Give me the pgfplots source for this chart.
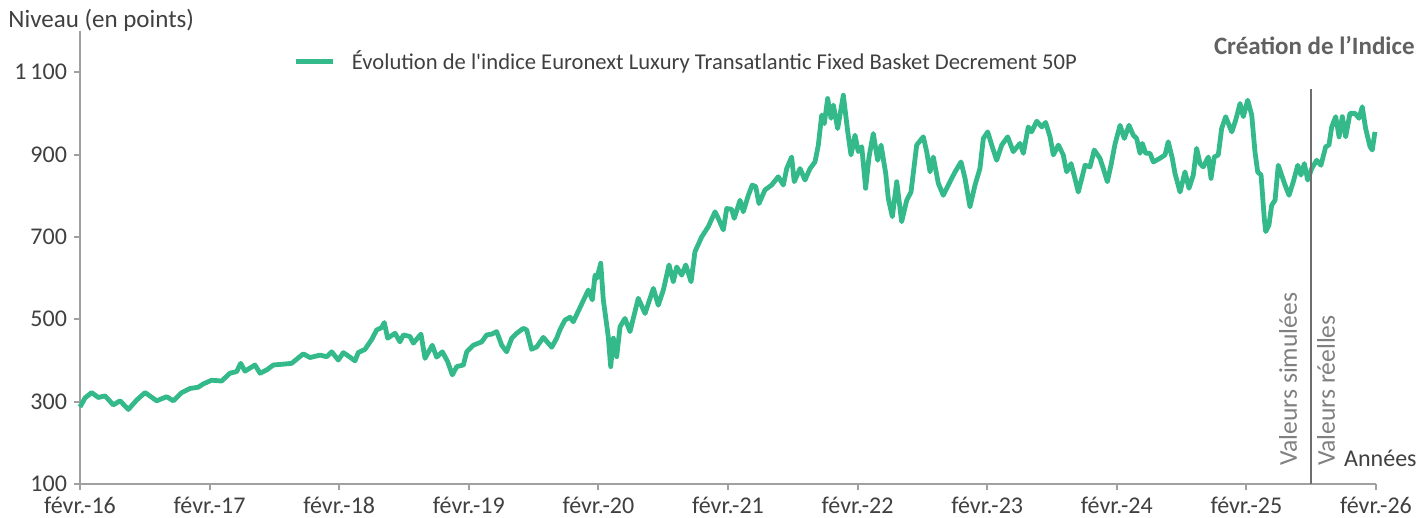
\documentclass[border=0pt]{standalone}
\usepackage{fontspec}
\setmainfont{Carlito}
\usepackage{pgfplots}
\pgfplotsset{compat=1.18}
\definecolor{lgreen}{RGB}{52,186,138}
\definecolor{txt}{RGB}{64,64,64}
\definecolor{axgray}{RGB}{160,160,160}
\definecolor{vgray}{RGB}{110,110,110}
\definecolor{notegray}{RGB}{128,128,128}
\begin{document}
\begin{tikzpicture}
\useasboundingbox (-40pt,-17pt) rectangle (670pt,242pt);
\begin{axis}[
  scale only axis, width=648pt, height=226.5pt,
  at={(0,0)}, anchor=south west,
  xmin=0, xmax=10, ymin=100, ymax=1200,
  axis lines*=left,
  axis line style={axgray, line width=1pt},
  tick style={axgray, line width=1pt},
  tick align=outside, major tick length=3pt,
  xtick={0,1,...,10},
  xticklabels={févr.-16,févr.-17,févr.-18,févr.-19,févr.-20,févr.-21,févr.-22,févr.-23,févr.-24,févr.-25,févr.-26},
  ytick={100,300,500,700,900,1100},
  yticklabels={100,300,500,700,900,1\,100},
  /pgf/number format/assume math mode=true,
  ticklabel style={font=\fontsize{12}{14}\selectfont, text=txt},
  legend style={at={(rel axis cs:0.1595,0.932)}, anchor=west, draw=none, fill=none,
     font=\fontsize{11.3}{13}\selectfont, text=txt},
  legend image code/.code={\draw[#1, line width=2.4pt] (0pt,0pt) -- (18.5pt,0pt); \path (25pt,0pt);},
  clip=false,
]
\addplot[lgreen, line width=2.4pt, line join=round] coordinates {
(0,287) (0.039,309) (0.090,322) (0.141,310) (0.193,314) (0.257,292) (0.309,302) (0.373,281)
(0.438,304) (0.502,322) (0.592,302) (0.669,312) (0.720,302) (0.785,322) (0.849,332) (0.913,335)
(0.951,343) (1.016,352) (1.093,350) (1.157,369) (1.209,373) (1.240,393) (1.273,374) (1.350,389)
(1.389,369) (1.441,377) (1.492,389) (1.569,391) (1.633,393) (1.723,416) (1.775,407) (1.852,413)
(1.904,409) (1.942,421) (1.993,401) (2.032,419) (2.083,408) (2.122,399) (2.147,419) (2.199,427)
(2.251,451) (2.289,474) (2.328,480) (2.348,492) (2.374,454) (2.431,466) (2.469,445) (2.495,462)
(2.546,458) (2.572,442) (2.631,464) (2.662,405) (2.718,437) (2.752,408) (2.796,421) (2.837,397)
(2.873,365) (2.907,385) (2.958,389) (2.984,421) (3.035,437) (3.099,445) (3.138,462) (3.177,464)
(3.215,470) (3.254,437) (3.292,421) (3.331,454) (3.370,466) (3.421,478) (3.447,474) (3.485,427)
(3.524,433) (3.575,456) (3.640,432) (3.678,454) (3.704,475) (3.742,498) (3.781,505) (3.806,494)
(3.871,537) (3.922,571) (3.953,547) (3.974,607) (3.989,600) (4.018,636) (4.038,547) (4.059,498)
(4.076,458) (4.095,385) (4.115,454) (4.141,409) (4.167,482) (4.205,502) (4.244,470) (4.269,502)
(4.308,551) (4.360,514) (4.424,575) (4.462,534) (4.501,571) (4.545,632) (4.578,591) (4.604,627)
(4.643,607) (4.674,632) (4.715,591) (4.745,664) (4.797,700) (4.848,725) (4.900,761) (4.925,745)
(4.964,717) (4.990,769) (5.028,767) (5.048,745) (5.093,789) (5.118,761) (5.157,801) (5.187,826)
(5.214,822) (5.239,781) (5.285,814) (5.337,826) (5.388,846) (5.427,826) (5.453,866) (5.491,894)
(5.511,834) (5.556,866) (5.594,838) (5.633,866) (5.671,882) (5.697,923) (5.723,996) (5.743,975)
(5.769,1036) (5.795,988) (5.813,1020) (5.846,963) (5.890,1044) (5.924,955) (5.949,899) (5.980,947)
(6.005,907) (6.032,919) (6.062,818) (6.088,894) (6.121,951) (6.155,886) (6.181,923) (6.217,854)
(6.237,793) (6.268,749) (6.302,834) (6.340,737) (6.379,789) (6.412,809) (6.456,923) (6.507,943)
(6.533,907) (6.559,858) (6.584,894) (6.623,830) (6.661,801) (6.713,834) (6.752,858) (6.798,882)
(6.829,842) (6.867,773) (6.906,826) (6.944,866) (6.970,939) (7.004,955) (7.035,923) (7.073,886)
(7.112,923) (7.158,943) (7.201,907) (7.253,927) (7.279,903) (7.317,967) (7.343,955) (7.382,981)
(7.421,967) (7.451,978) (7.485,943) (7.510,899) (7.549,923) (7.587,899) (7.613,858) (7.647,878)
(7.677,842) (7.703,809) (7.755,874) (7.793,870) (7.826,911) (7.870,891) (7.896,866) (7.927,834)
(7.955,874) (7.986,925) (8.025,971) (8.058,939) (8.094,971) (8.127,947) (8.153,939) (8.179,903)
(8.197,927) (8.223,903) (8.256,903) (8.282,882) (8.333,891) (8.372,899) (8.397,931) (8.428,891)
(8.449,854) (8.488,809) (8.526,858) (8.557,818) (8.590,850) (8.616,915) (8.642,878) (8.667,870)
(8.706,894) (8.727,842) (8.752,894) (8.783,899) (8.809,963) (8.840,992) (8.887,955) (8.917,983)
(8.951,1024) (8.976,992) (9.010,1032) (9.041,996) (9.066,907) (9.087,858) (9.113,850) (9.138,745)
(9.149,713) (9.174,729) (9.195,777) (9.221,789) (9.246,874) (9.272,850) (9.298,826) (9.329,801)
(9.362,834) (9.396,874) (9.421,850) (9.447,878) (9.473,838) (9.504,866) (9.542,886) (9.575,874)
(9.612,919) (9.637,923) (9.658,967) (9.689,992) (9.715,943) (9.740,992) (9.766,943) (9.799,1000)
(9.838,1000) (9.869,988) (9.894,1016) (9.920,963) (9.954,919) (9.971,911) (9.992,955)
};
\addlegendentry{Évolution de l\textquotesingle indice Euronext Luxury Transatlantic Fixed Basket Decrement 50P}
\addplot[vgray, line width=0.9pt, forget plot] coordinates {(9.498,100) (9.498,1060)};
\end{axis}
\node[anchor=west, text=txt, font=\fontsize{12.5}{14}\selectfont, inner sep=0pt] at (-36pt,232pt) {Niveau (en points)};
\node[anchor=east, text=black!62, font=\fontsize{12.5}{14}\selectfont\bfseries, inner sep=0pt] at (667.5pt,219pt) {Création de l’Indice};
\node[anchor=west, rotate=90, text=notegray, font=\fontsize{12.8}{14}\selectfont, inner sep=0pt] at (604pt,9pt) {Valeurs simulées};
\node[anchor=west, rotate=90, text=notegray, font=\fontsize{12.8}{14}\selectfont, inner sep=0pt] at (623pt,9pt) {Valeurs réelles};
\node[anchor=east, text=txt, font=\fontsize{12}{14}\selectfont, inner sep=0pt] at (668.5pt,13pt) {Années};
\end{tikzpicture}
\end{document}
